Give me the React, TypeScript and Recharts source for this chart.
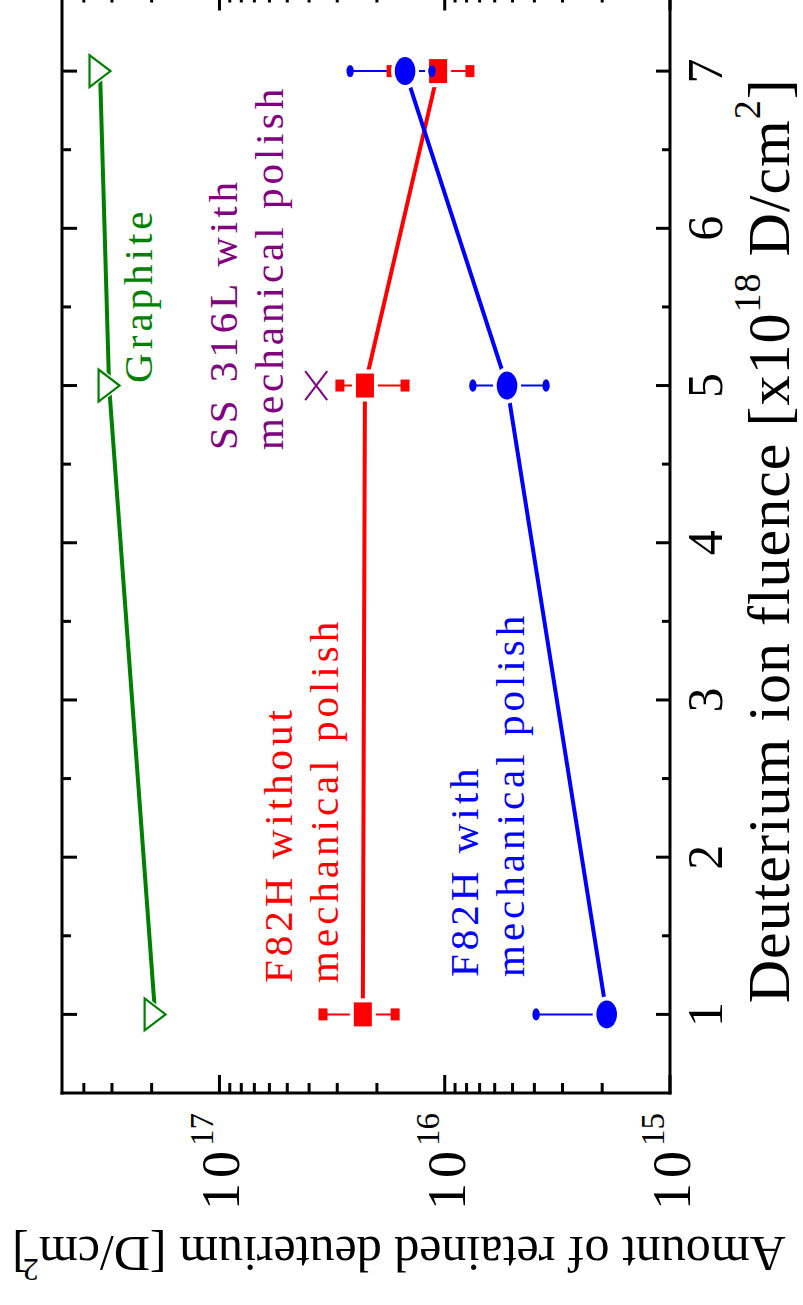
import { ComposedChart, Line, XAxis, YAxis, ReferenceDot, Label } from 'recharts';

// The figure is drawn upright and then turned a quarter turn counter-clockwise,
// the same way the scanned reference is printed.

const FLUENCE = [1, 5, 7];
const GRAPHITE = [1.93e17, 3.09e17, 3.39e17];
const F82H_ROUGH = [2.31e16, 2.26e16, 1.07e16];
const F82H_ROUGH_HI = [3.47e16, 2.92e16, 1.73e16];
const F82H_ROUGH_LO = [1.66e16, 1.5e16, 7.73e15];
const F82H_POLISHED = [1.91e15, 5.29e15, 1.5e16];
const F82H_POLISHED_HI = [3.93e15, 7.5e15, 2.63e16];
const F82H_POLISHED_LO = [1.91e15, 3.55e15, 1.14e16];
const SS316L_FLUENCE = [5];
const SS316L = [3.72e16];

const FLUENCE_TICKS = [1, 1.5, 2, 2.5, 3, 3.5, 4, 4.5, 5, 5.5, 6, 6.5, 7];
const AMOUNT_TICKS = [
  1e15, 2e15, 3e15, 4e15, 5e15, 6e15, 7e15, 8e15, 9e15,
  1e16, 2e16, 3e16, 4e16, 5e16, 6e16, 7e16, 8e16, 9e16,
  1e17, 2e17, 3e17, 4e17,
];

const ANNOTATIONS = [
  { lines: ['Graphite'], f: 5.017, v: 1.99e17, color: '#008000' },
  { lines: ['SS 316L with', 'mechanical polish'], f: 4.59, v: 8.36e16, color: '#800080' },
  { lines: ['F82H without', 'mechanical polish'], f: 1.2, v: 4.76e16, color: '#ff0000' },
  { lines: ['F82H with', 'mechanical polish'], f: 1.238, v: 7.1e15, color: '#0000ff' },
];

const GREEN = '#008000';
const RED = '#ff0000';
const BLUE = '#0000ff';
const PURPLE = '#800080';
const FONT = '"Liberation Serif", "DejaVu Serif", serif';

const toPoints = (xs: number[], ys: number[]) => xs.map((f, i) => ({ f, v: ys[i] }));
const errorBar = (f: number, c: number, lo: number, hi: number) => [
  { f, v: lo, c },
  { f, v: hi, c },
];

const isDecade = (v: number) => Math.abs(Math.log10(v) - Math.round(Math.log10(v))) < 1e-6;

function LeftTick({ x, y, payload }: any) {
  const major = isDecade(payload.value);
  return (
    <g>
      <line x1={x} x2={x + (major ? 18 : 10)} y1={y} y2={y} stroke="#000" strokeWidth={3} />
      {major && (
        <text x={x - 117} y={y + 20} fontFamily={FONT} fontSize={54} letterSpacing={5} fill="#000">
          10
          <tspan fontSize={33} letterSpacing={0} dy={-26}>{Math.round(Math.log10(payload.value))}</tspan>
        </text>
      )}
    </g>
  );
}

function RightTick({ x, y, payload }: any) {
  const major = isDecade(payload.value);
  return <line x1={x} x2={x - (major ? 18 : 10)} y1={y} y2={y} stroke="#000" strokeWidth={3} />;
}

function BottomTick({ x, y, payload }: any) {
  const major = Number.isInteger(payload.value);
  return (
    <g>
      <line x1={x} x2={x} y1={y} y2={y - (major ? 14 : 8)} stroke="#000" strokeWidth={3} />
      {major && (
        <text x={x} y={y + 52} textAnchor="middle" fontFamily={FONT} fontSize={50} fill="#000">
          {payload.value}
        </text>
      )}
    </g>
  );
}

function TopTick({ x, y, payload }: any) {
  const major = Number.isInteger(payload.value);
  return <line x1={x} x2={x} y1={y} y2={y + (major ? 15 : 9)} stroke="#000" strokeWidth={3} />;
}

const triangleDot = ({ cx, cy, index }: any) => (
  <g key={`tri-${index}`}>
    <polygon points={`${cx - 21},${cy - 13.5} ${cx + 21},${cy - 13.5} ${cx},${cy + 15}`} fill="#fff" />
    <polygon
      points={`${cx - 16},${cy - 10.5} ${cx + 16},${cy - 10.5} ${cx},${cy + 10.5}`}
      fill="#fff"
      stroke={GREEN}
      strokeWidth={2.2}
    />
  </g>
);

const squareDot = ({ cx, cy, index }: any) => (
  <g key={`sq-${index}`}>
    <rect x={cx - 16} y={cy - 13} width={32} height={26} fill="#fff" />
    <rect x={cx - 12} y={cy - 9} width={24} height={18} fill={RED} />
  </g>
);

const circleDot = ({ cx, cy, index }: any) => (
  <g key={`ci-${index}`}>
    <ellipse cx={cx} cy={cy} rx={18} ry={14} fill="#fff" />
    <ellipse cx={cx} cy={cy} rx={14} ry={10.3} fill={BLUE} />
  </g>
);

const crossDot = ({ cx, cy, index }: any) => (
  <g key={`x-${index}`} stroke={PURPLE} strokeWidth={2}>
    <line x1={cx - 14.5} y1={cy - 11} x2={cx + 14.5} y2={cy + 11} />
    <line x1={cx - 14.5} y1={cy + 11} x2={cx + 14.5} y2={cy - 11} />
  </g>
);

const redCap = ({ cx, cy, index, payload }: any) =>
  payload.v === payload.c ? <g key={`rc-${index}`} /> : (
    <rect key={`rc-${index}`} x={cx - 6} y={cy - 4.5} width={12} height={9} fill={RED} />
  );

const blueCap = ({ cx, cy, index, payload }: any) =>
  payload.v === payload.c ? <g key={`bc-${index}`} /> : (
    <ellipse key={`bc-${index}`} cx={cx} cy={cy} rx={6.2} ry={3.7} fill={BLUE} />
  );

function AnnotationText({ cx, cy, lines, color }: any) {
  return (
    <text x={cx} y={cy} fontFamily={FONT} fontSize={41} letterSpacing={4} fill={color}>
      {lines.map((l: string, i: number) => (
        <tspan key={l} x={cx} dy={i === 0 ? 0 : 46}>{l}</tspan>
      ))}
    </text>
  );
}

function AmountTitle({ viewBox }: any) {
  const x = viewBox.x + 6;
  const y = viewBox.y + viewBox.height / 2 + 33;
  return (
    <text x={x} y={y} transform={`rotate(-90, ${x}, ${y})`} textAnchor="middle" fontFamily={FONT} fontSize={50} fill="#000">
      Amount of retained deuterium [D/cm
      <tspan fontSize={32} dy={-22}>2</tspan>
      <tspan dy={22} dx={-6}>]</tspan>
    </text>
  );
}

function FluenceTitle({ viewBox }: any) {
  const x = viewBox.x + viewBox.width / 2 + 2;
  const y = viewBox.y + 119;
  return (
    <text x={x} y={y} textAnchor="middle" fontFamily={FONT} fontSize={60} letterSpacing={1} fill="#000">
      Deuterium ion fluence [x10
      <tspan fontSize={38} dy={-29}>18</tspan>
      <tspan dy={29}> D/cm</tspan>
      <tspan fontSize={38} dy={-29}>2</tspan>
      <tspan dy={29}>]</tspan>
    </text>
  );
}

const axisLine = { stroke: '#000', strokeWidth: 3, strokeLinecap: 'square' as const };

export default function App() {
  return (
    <div
      style={{
        position: 'absolute',
        left: 0,
        top: 0,
        width: 1320,
        height: 803,
        background: '#fff',
        transformOrigin: '0 0',
        transform: 'translateY(1305px) rotate(-90deg)',
      }}
    >
      <ComposedChart width={1320} height={803} margin={{ top: 52, right: 2.5, bottom: 13, left: 62 }}>
        <XAxis
          xAxisId="b"
          type="number"
          dataKey="f"
          domain={[0.5, 7.5]}
          allowDataOverflow
          ticks={FLUENCE_TICKS}
          interval={0}
          orientation="bottom"
          height={120}
          tickSize={0}
          tickMargin={0}
          tickLine={false}
          tick={<BottomTick />}
          axisLine={axisLine}
        >
          <Label content={(p: any) => <FluenceTitle viewBox={p.viewBox} />} />
        </XAxis>
        <XAxis
          xAxisId="t"
          type="number"
          dataKey="f"
          domain={[0.5, 7.5]}
          allowDataOverflow
          ticks={FLUENCE_TICKS}
          interval={0}
          orientation="top"
          height={10}
          tickSize={0}
          tickMargin={0}
          tickLine={false}
          tick={<TopTick />}
          axisLine={axisLine}
        />
        <YAxis
          yAxisId="l"
          type="number"
          scale="log"
          domain={[1e15, 5e17]}
          allowDataOverflow
          ticks={AMOUNT_TICKS}
          interval={0}
          width={150}
          tickSize={0}
          tickMargin={0}
          tickLine={false}
          tick={<LeftTick />}
          axisLine={axisLine}
        >
          <Label content={(p: any) => <AmountTitle viewBox={p.viewBox} />} />
        </YAxis>
        <YAxis
          yAxisId="r"
          orientation="right"
          type="number"
          scale="log"
          domain={[1e15, 5e17]}
          allowDataOverflow
          ticks={AMOUNT_TICKS}
          interval={0}
          width={5}
          tickSize={0}
          tickMargin={0}
          tickLine={false}
          tick={<RightTick />}
          axisLine={axisLine}
        />

        <Line
          xAxisId="b"
          yAxisId="l"
          data={toPoints(FLUENCE, GRAPHITE)}
          dataKey="v"
          stroke={GREEN}
          strokeWidth={4}
          dot={triangleDot}
          activeDot={false}
          isAnimationActive={false}
        />
        <Line
          xAxisId="b"
          yAxisId="l"
          data={toPoints(FLUENCE, F82H_ROUGH)}
          dataKey="v"
          stroke={RED}
          strokeWidth={4}
          dot={squareDot}
          activeDot={false}
          isAnimationActive={false}
        />
        {FLUENCE.map((f, i) => (
          <Line
            key={`re-${f}`}
            xAxisId="b"
            yAxisId="l"
            data={errorBar(f, F82H_ROUGH[i], F82H_ROUGH_LO[i], F82H_ROUGH_HI[i])}
            dataKey="v"
            stroke={RED}
            strokeWidth={2}
            dot={redCap}
            activeDot={false}
            isAnimationActive={false}
          />
        ))}
        <Line
          xAxisId="b"
          yAxisId="l"
          data={toPoints(FLUENCE, F82H_POLISHED)}
          dataKey="v"
          stroke={BLUE}
          strokeWidth={4}
          dot={circleDot}
          activeDot={false}
          isAnimationActive={false}
        />
        {FLUENCE.map((f, i) => (
          <Line
            key={`be-${f}`}
            xAxisId="b"
            yAxisId="l"
            data={errorBar(f, F82H_POLISHED[i], F82H_POLISHED_LO[i], F82H_POLISHED_HI[i])}
            dataKey="v"
            stroke={BLUE}
            strokeWidth={2}
            dot={blueCap}
            activeDot={false}
            isAnimationActive={false}
          />
        ))}
        <Line
          xAxisId="b"
          yAxisId="l"
          data={toPoints(SS316L_FLUENCE, SS316L)}
          dataKey="v"
          stroke="none"
          dot={crossDot}
          activeDot={false}
          isAnimationActive={false}
        />

        {ANNOTATIONS.map((a) => (
          <ReferenceDot
            key={a.lines[0]}
            xAxisId="b"
            yAxisId="l"
            x={a.f}
            y={a.v}
            r={0}
            shape={(p: any) => <AnnotationText cx={p.cx} cy={p.cy} lines={a.lines} color={a.color} />}
          />
        ))}
      </ComposedChart>
    </div>
  );
}
